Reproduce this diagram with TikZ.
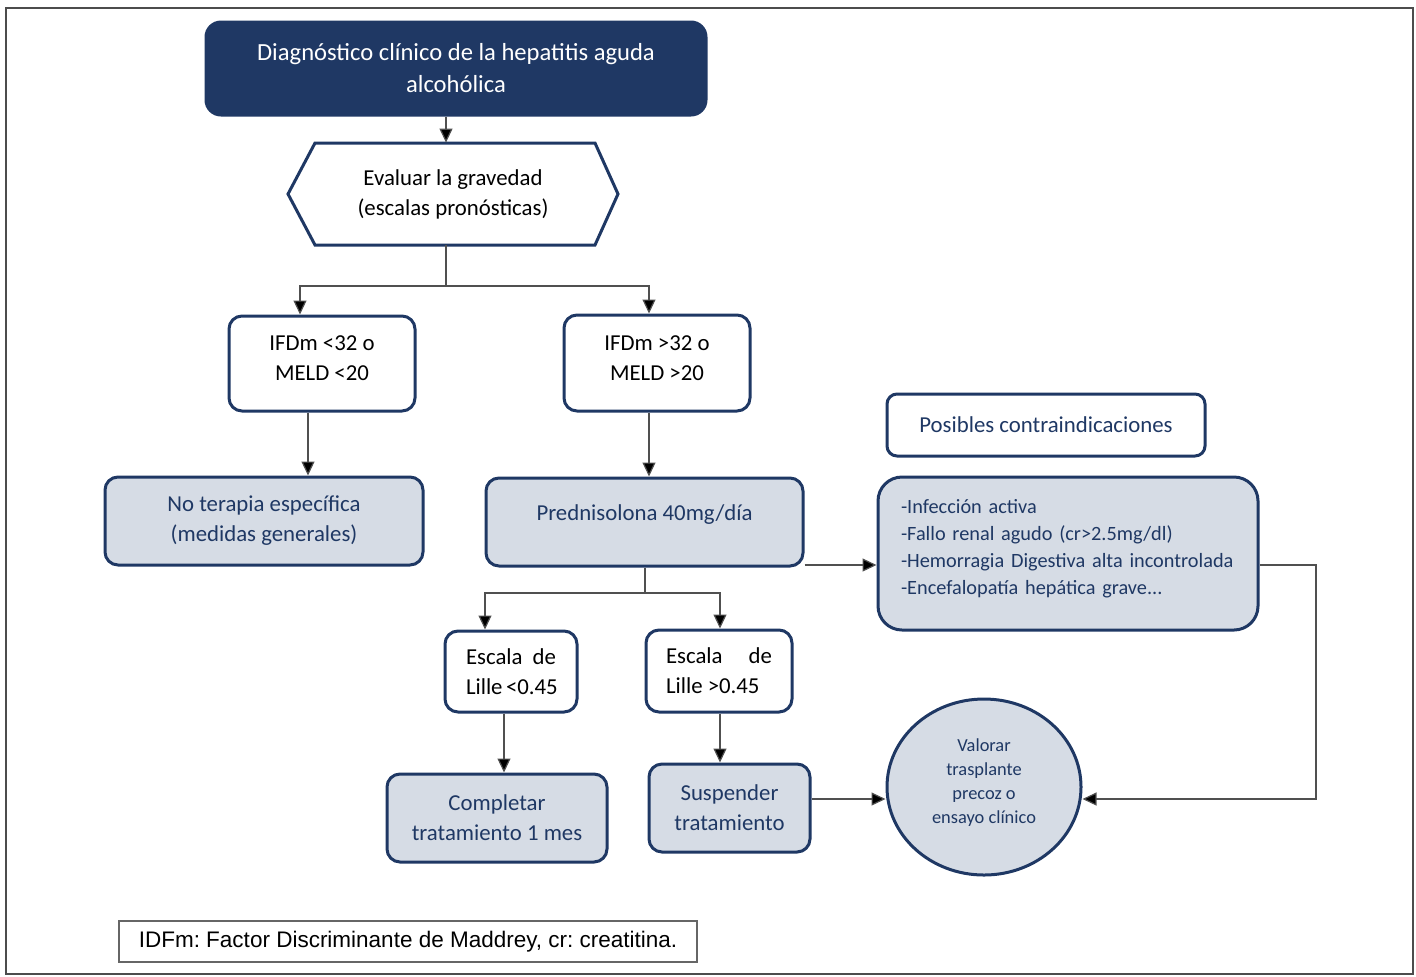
\documentclass[tikz,border=0pt]{standalone}
\usepackage{fontspec}
\setmainfont{Carlito}
\newfontfamily\arialf{Liberation Sans}
\usetikzlibrary{arrows.meta,shapes.geometric,calc}
\definecolor{navy}{HTML}{1F3864}
\definecolor{lightfill}{HTML}{D6DCE5}
\definecolor{connc}{HTML}{505050}
\frenchspacing
\tikzset{
  conn/.style={draw=connc, line width=0.6pt},
  arr/.style={conn, -{Triangle[length=7pt,width=6.5pt,fill=black]}},
  wbox/.style={draw=navy, line width=1.5pt, rounded corners=6.5pt, fill=white,
    align=center, text=black, inner sep=2pt, font=\fontsize{11.4}{15}\selectfont},
  fbox/.style={wbox, fill=lightfill, text=navy},
}
\begin{document}
\begin{tikzpicture}[x=0.5pt,y=-0.5pt]
\useasboundingbox (0,0) rectangle (1416,976);
\draw[draw=black!70, line width=1pt] (6,8) rectangle (1413,974);

% title
\node[wbox, fill=navy, text=white, rounded corners=7.5pt, minimum width=250pt, minimum height=46.5pt,
  font=\fontsize{12.3}{16}\selectfont] (title) at (456,68.5)
  {Diagnóstico clínico de la hepatitis aguda\\alcohólica};

% hexagon
\draw[draw=navy, line width=1.5pt, fill=white] (288,194) -- (315,143) -- (595,143) -- (618,194) -- (595,245) -- (315,245) -- cycle;
\node[align=center, text=black, font=\fontsize{11.4}{15}\selectfont, minimum width=165pt, minimum height=51pt, inner sep=0pt] (hex) at (453,194)
  {Evaluar la gravedad\\(escalas pronósticas)};

% severity boxes
\node[wbox, minimum width=93pt, minimum height=47.5pt, text depth=5pt] (A) at (322,363.5) {IFDm <32 o\\MELD <20};
\node[wbox, minimum width=93pt, minimum height=48pt, text depth=5pt] (B) at (657,363) {IFDm >32 o\\MELD >20};

\node[fbox, minimum width=159pt, minimum height=44pt] (C) at (264,521) {No terapia específica\\(medidas generales)};
\node[fbox, minimum width=158.5pt, minimum height=44pt, text depth=9.5pt] (D) at (644.5,522) {Prednisolona 40mg/día};

\node[wbox, minimum width=66pt, minimum height=40.5pt, align=left, inner sep=0pt] (E) at (511,671.5)
  {\makebox[45pt][s]{Escala de}\\\makebox[45pt][s]{Lille <0.45}};
\node[wbox, minimum width=73pt, minimum height=41pt, align=left, inner sep=0pt] (F) at (719,671)
  {\makebox[53pt][s]{Escala de}\\\makebox[53pt][l]{Lille >0.45}};

\node[fbox, minimum width=110pt, minimum height=44pt] (G) at (497,818) {Completar\\tratamiento 1 mes};
\node[fbox, minimum width=80.5pt, minimum height=44pt] (H) at (729.5,808) {Suspender\\tratamiento};

\node[ellipse, draw=navy, line width=1.5pt, fill=lightfill, text=navy, align=center,
  minimum width=97pt, minimum height=88pt, inner sep=0pt, text depth=6pt,
  font=\fontsize{9.2}{12}\selectfont] (I) at (984,787)
  {Valorar\\trasplante\\precoz o\\ensayo clínico};

\node[wbox, text=navy, rounded corners=5pt, minimum width=159pt, minimum height=31pt] (K) at (1046,425) {Posibles contraindicaciones};

\node[fbox, rounded corners=12pt, minimum width=190pt, minimum height=76.5pt, text width=167pt, inner sep=0pt,
  align=left, font=\fontsize{10.15}{13.5}\selectfont] (J) at (1068,553.5)
  {-Infección activa\\-Fallo renal agudo (cr>2.5mg/dl)\\-Hemorragia Digestiva alta incontrolada\\-Encefalopatía hepática grave...\par\vspace*{5pt}};

\node[draw=black!60, line width=0.6pt, fill=white, minimum width=289pt, minimum height=20.5pt, inner sep=0pt,
  font=\arialf\fontsize{11.25}{13}\selectfont] (foot) at (408,941.5)
  {IDFm: Factor Discriminante de Maddrey, cr: creatitina.};

% connectors
\coordinate (xt) at (446,0);
\draw[arr] (title.south -| xt) -- (hex.north -| xt);
\coordinate (s1) at (446,286);
\draw[conn] (hex.south -| s1) -- (s1);
\coordinate (xA) at (300,0);
\coordinate (xB) at (649,0);
\draw[arr] (s1) -| (A.north -| xA);
\draw[arr] (s1) -| (B.north -| xB);
\coordinate (xAC) at (308,0);
\draw[arr] (A.south -| xAC) -- (C.north -| xAC);
\draw[arr] (B.south -| xB) -- (D.north -| xB);
\coordinate (s2) at (645,593);
\draw[conn] (D.south -| s2) -- (s2);
\coordinate (xE) at (485,0);
\coordinate (xF) at (720,0);
\draw[arr] (s2) -| (E.north -| xE);
\draw[arr] (s2) -| (F.north -| xF);
\coordinate (xEG) at (504,0);
\draw[arr] (E.south -| xEG) -- (G.north -| xEG);
\draw[arr] (F.south -| xF) -- (H.north -| xF);
\coordinate (yHI) at (0,799);
\draw[arr] (H.east |- yHI) -- (I.west |- yHI);
\coordinate (yDJ) at (0,565);
\draw[arr] (D.east |- yDJ) -- (J.west |- yDJ);
\coordinate (xR) at (1316,0);
\draw[arr] (J.east |- yDJ) -| (xR |- yHI) -- (I.east |- yHI);
\end{tikzpicture}
\end{document}
